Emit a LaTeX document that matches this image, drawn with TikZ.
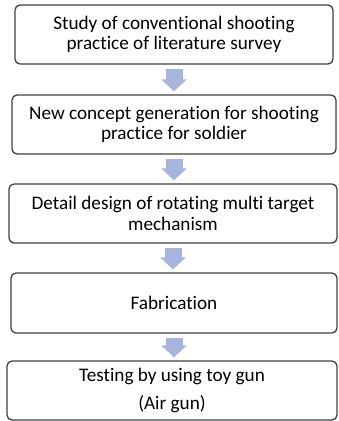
\documentclass[tikz,border=0pt]{standalone}
\usepackage{fontspec}
\setmainfont{Carlito}[Ligatures=NoCommon]
\usetikzlibrary{arrows.meta}
\definecolor{arrowblue}{RGB}{166,180,222}
\definecolor{boxline}{RGB}{64,64,64}

\begin{document}
\begin{tikzpicture}[x=1pt, y=-1pt,
  stepbox/.style={draw=boxline, line width=1.3pt, rounded corners=5pt, minimum height=59pt,
    align=center, inner sep=0pt, font=\fontsize{19.2}{20.5}\selectfont},
  blockarrow/.style={draw=arrowblue, line width=17pt, -{Triangle[length=12pt, width=25pt]},
    shorten <=4pt, shorten >=3pt}]
  \useasboundingbox (0,0) rectangle (338,421);

  \node[stepbox, minimum width=318pt] (b1) at (174,34.5) {Study of conventional shooting\\practice of literature survey};
  \node[stepbox, minimum width=324pt] (b2) at (174,124.5) {New concept generation for shooting\\practice for soldier};
  \node[stepbox, minimum width=328pt] (b3) at (173,213.5) {Detail design of rotating multi target\\mechanism};
  \node[stepbox, minimum width=326pt, minimum height=60pt] (b4) at (174,303) {Fabrication};
  \node[stepbox, minimum width=330pt] (b5) at (172,390.5) {Testing by using toy gun\\[8pt](Air gun)};

  \foreach \i/\j in {b1/b2,b2/b3,b3/b4,b4/b5} {
    \draw[blockarrow] (\i.south) -- (\i.south |- \j.north);
  }
\end{tikzpicture}
\end{document}
